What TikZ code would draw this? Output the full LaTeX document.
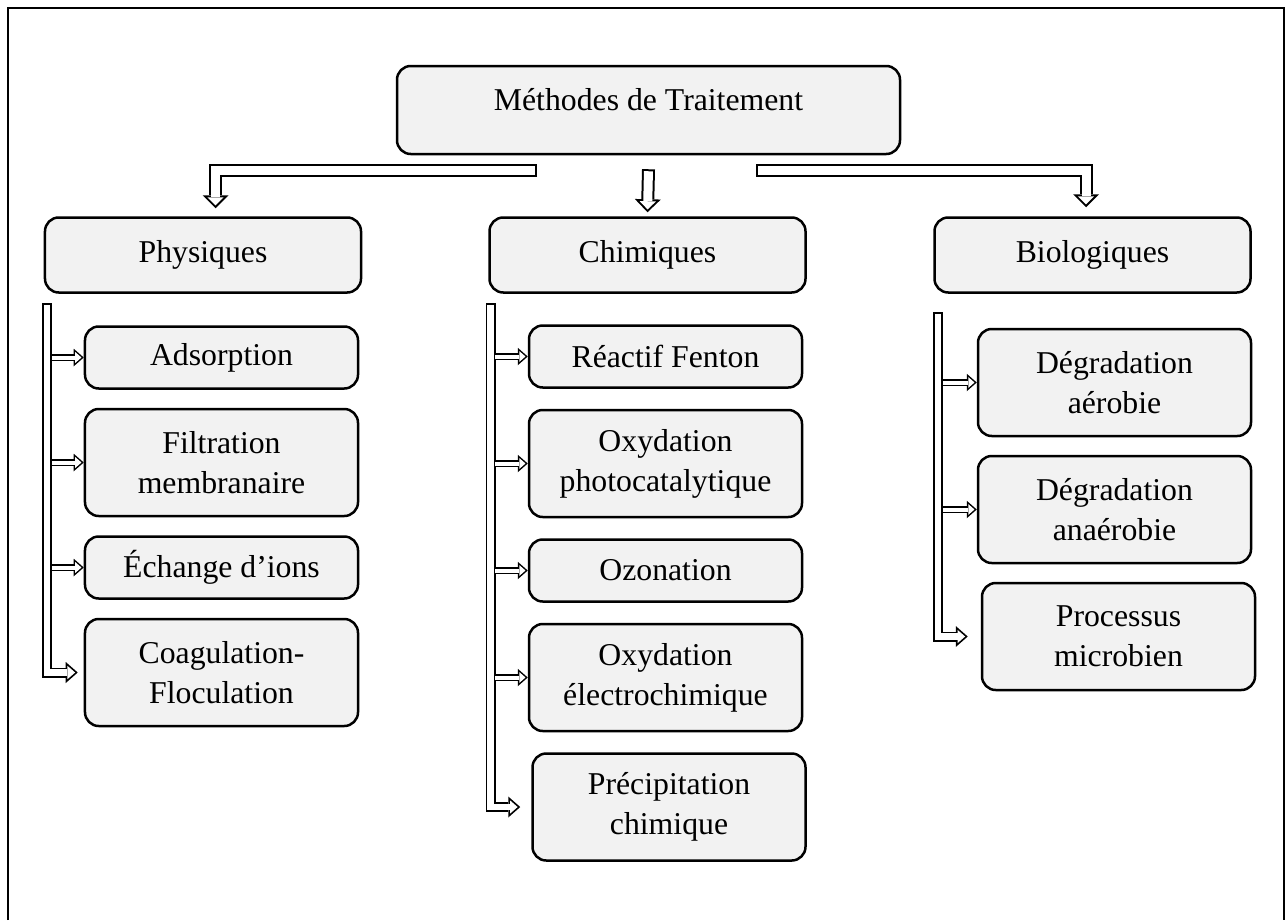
\documentclass[tikz,border=0pt]{standalone}
\usepackage{fontspec}
\setmainfont{Liberation Serif}
\usetikzlibrary{positioning,arrows.meta}
\definecolor{boxGray}{HTML}{F2F2F2}
\tikzstyle{methodBox}=[draw, line width=1pt, rounded corners=5.5pt, fill=boxGray, align=center, font=\fontsize{12.7pt}{16pt}\selectfont]
\tikzstyle{groupBox}=[methodBox, minimum width=126.4pt, minimum height=30pt]
\tikzstyle{singleBox}=[methodBox, minimum width=109.2pt, minimum height=24.8pt]
\tikzstyle{doubleBox}=[methodBox, minimum width=109.2pt, minimum height=42.8pt]
\tikzstyle{bigArrow}=[line width=5.2pt, -{Triangle[width=10.4pt,length=5.2pt,line width=0pt]}, postaction={draw=white, line width=3.6pt, shorten <=0.8pt, shorten >=1.13pt, -{Triangle[width=6.54pt,length=3.27pt,line width=0pt]}}]
\tikzstyle{barArrow}=[line width=4pt, -{Triangle[width=8.4pt,length=4.8pt,line width=0pt]}, postaction={draw=white, line width=2.6pt, shorten <=0.7pt, shorten >=1.06pt, -{Triangle[width=5.31pt,length=3.04pt,line width=0pt]}}]
\tikzstyle{smallArrow}=[line width=2.8pt, -{Triangle[width=7pt,length=4pt,line width=0pt]}, postaction={draw=white, line width=1.6pt, shorten >=0.91pt, -{Triangle[width=4.36pt,length=2.49pt,line width=0pt]}}]

\begin{document}
\begin{tikzpicture}[x=0.4pt, y=-0.4pt]
	\useasboundingbox (0,0) rectangle (1286,920);
	\draw[line width=1pt] (8,920) -- (8,8) -- (1284,8) -- (1284,920);
	
	\node[methodBox, minimum width=201.2pt, minimum height=35.2pt, text height=0.8em, text depth=0.8em] (top) at (648.5,110) {Méthodes de Traitement};
	
	\node[groupBox] (phys) at (203,255) {Physiques};
	\node[groupBox] (chim) at (647.5,255) {Chimiques};
	\node[groupBox] (bio) at (1092.5,255) {Biologiques};
	
	\node[singleBox] (ads) at (221.5,357.5) {Adsorption};
	\node[doubleBox, below=7.2pt of ads] (filt) {Filtration\\membranaire};
	\node[singleBox, below=7.2pt of filt] (ech) {Échange d’ions};
	\node[doubleBox, below=7.2pt of ech] (coag) {Coagulation-\\Floculation};
	
	\node[singleBox] (fent) at (665.5,356.5) {Réactif Fenton};
	\node[doubleBox, below=8pt of fent] (photo) {Oxydation\\photocatalytique};
	\node[singleBox, below=8pt of photo] (ozo) {Ozonation};
	\node[doubleBox, below=8pt of ozo] (elec) {Oxydation\\électrochimique};
	\node[doubleBox, below=8pt of elec, xshift=1.4pt] (prec) {Précipitation\\chimique};
	
	\node[doubleBox] (aer) at (1114.5,382.5) {Dégradation\\aérobie};
	\node[doubleBox, below=7pt of aer] (ana) {Dégradation\\anaérobie};
	\node[doubleBox, below=7pt of ana, xshift=1.6pt] (micro) {Processus\\microbien};
	
	\coordinate (tL) at (537,170.5);
	\coordinate (tR) at (756,170.5);
	\coordinate (pBar) at (47,303);
	\coordinate (pEdge) at (52,303);
	\coordinate (cBar) at (490.5,303);
	\coordinate (cEdge) at (495,303);
	\coordinate (bBar) at (938,312);
	\coordinate (bEdge) at (943,312);
	
	\draw[bigArrow] (tL) -| ([xshift=5pt, yshift=3.2pt]phys.north);
	\draw[bigArrow] ([yshift=-5.6pt]top.south) -- ([yshift=1.6pt]chim.north);
	\draw[bigArrow] (tR) -| ([xshift=-2.6pt, yshift=3.6pt]bio.north);
	
	\draw[barArrow] (pBar) |- ([xshift=-2.4pt]coag.west);
	\draw[smallArrow] (pEdge |- ads.west) -- (ads.west);
	\draw[smallArrow] (pEdge |- filt.west) -- (filt.west);
	\draw[smallArrow] (pEdge |- ech.west) -- (ech.west);
	
	\draw[barArrow] (cBar) |- ([xshift=-4.4pt]prec.west);
	\draw[smallArrow] (cEdge |- fent.west) -- (fent.west);
	\draw[smallArrow] (cEdge |- photo.west) -- (photo.west);
	\draw[smallArrow] (cEdge |- ozo.west) -- (ozo.west);
	\draw[smallArrow] (cEdge |- elec.west) -- (elec.west);
	
	\draw[barArrow] (bBar) |- ([xshift=-5.2pt]micro.west);
	\draw[smallArrow] (bEdge |- aer.west) -- (aer.west);
	\draw[smallArrow] (bEdge |- ana.west) -- (ana.west);
\end{tikzpicture}
\end{document}
